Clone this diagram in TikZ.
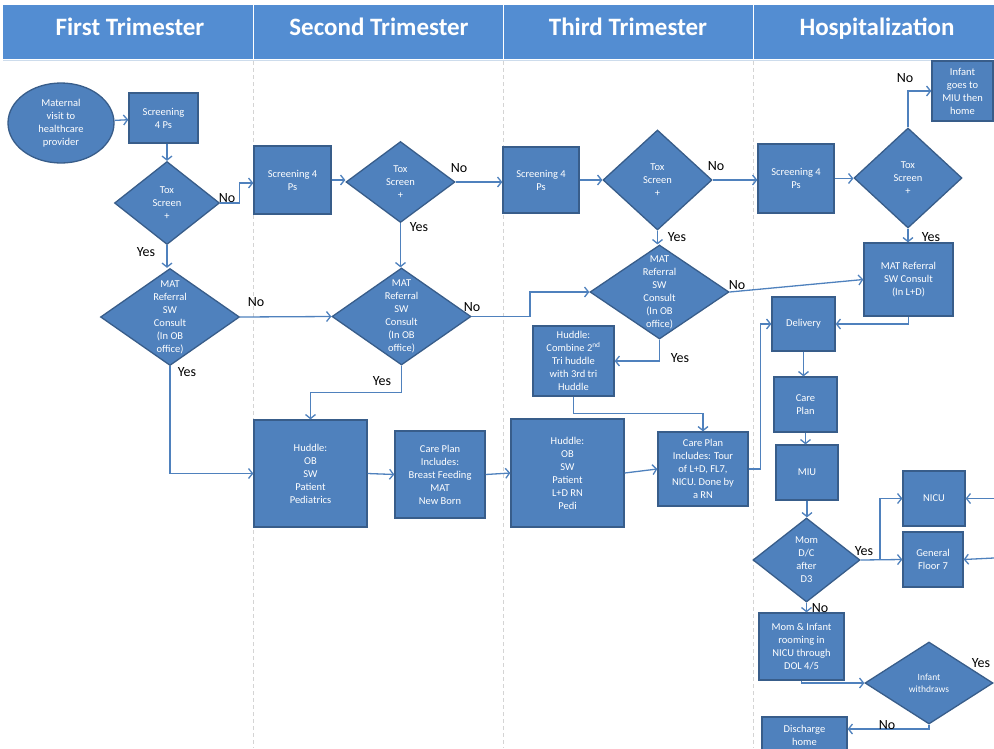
\documentclass[tikz,border=0pt]{standalone}
\usepackage{fontspec}
\setmainfont{Carlito}
\usetikzlibrary{shapes.geometric,arrows.meta,calc}
\definecolor{hdrblue}{RGB}{83,141,210}
\definecolor{boxblue}{RGB}{79,129,189}
\definecolor{boxedge}{RGB}{56,93,138}
\definecolor{lineblue}{RGB}{79,129,189}
\definecolor{sepgray}{RGB}{212,212,212}
\definecolor{rulegray}{RGB}{205,220,236}

\begin{document}
\begin{tikzpicture}[x=1pt,y=-1pt,
  sz/.style 2 args={minimum width=#1pt, minimum height=#2pt},
  stepbox/.style={rectangle, fill=boxblue, draw=boxedge, line width=1.3pt,
    text=white, align=center, font=\fontsize{10.5}{13}\selectfont, inner sep=1pt},
  decision/.style={diamond, fill=boxblue, draw=boxedge, line width=1.3pt, inner sep=0pt},
  dtext/.style={text=white, align=center, font=\fontsize{10.5}{13}\selectfont, inner sep=0pt},
  flow/.style={draw=lineblue, line width=1.3pt, -{Straight Barb[length=4pt,width=10pt]}},
  ans/.style={font=\fontsize{14}{16}\selectfont, text=black, inner sep=0pt},
  hdr/.style={font=\fontsize{25}{28}\selectfont\bfseries, text=white, anchor=base, inner sep=0pt},
]
\useasboundingbox (0,0) rectangle (994,748);

% ---------- swimlane header ----------
\fill[hdrblue] (3,5) rectangle (994,59);
\draw[rulegray, line width=1pt] (3,60) -- (994,60);
\foreach \xx in {253,503,753} {
  \draw[white, line width=1pt] (\xx,5) -- (\xx,59);
  \draw[sepgray, line width=0.9pt, dash pattern=on 4pt off 3pt] (\xx,61) -- (\xx,748);
}
\node[hdr] (h-first)  at (130,35) {First Trimester};
\node[hdr] (h-second) at (379,35) {Second Trimester};
\node[hdr] (h-third)  at (628,35) {Third Trimester};
\node[hdr] (h-hosp)   at (877,35) {Hospitalization};

% ---------- first trimester ----------
\node[ellipse, fill=boxblue, draw=boxedge, line width=1.3pt, text=white, align=center,
  font=\fontsize{10.5}{13}\selectfont, inner sep=0pt, sz={106}{80}] (mat) at (61,123)
  {Maternal\\visit to\\healthcare\\provider};
\node[stepbox, sz={69}{50}] (s1) at (163.5,118) {Screening\\4 Ps};
\node[decision, sz={105}{83}] (t1) at (167,203) {};
\node[dtext] (t1t) at (t1) {Tox\\Screen\\+};
\node[decision, sz={139}{97}] (m1) at (170,317) {};
\node[dtext] (m1t) at (m1) {MAT\\Referral\\SW\\Consult\\(In OB\\office)};

% ---------- second trimester ----------
\node[stepbox, sz={77}{68}] (s2) at (292.5,180) {Screening 4\\Ps};
\node[decision, sz={109}{81}] (t2) at (400.5,182) {};
\node[dtext] (t2t) at (t2) {Tox\\Screen\\+};
\node[decision, sz={139}{97}] (m2) at (401.5,316.5) {};
\node[dtext] (m2t) at (m2) {MAT\\Referral\\SW\\Consult\\(In OB\\office)};
\node[stepbox, sz={113}{107}] (h1) at (310.5,473.5) {Huddle:\\OB\\SW\\Patient\\Pediatrics};
\node[stepbox, sz={90}{87}] (cp1) at (440,474.5) {Care Plan\\Includes:\\Breast Feeding\\MAT\\New Born};

% ---------- third trimester ----------
\node[stepbox, sz={76}{66}] (s3) at (541,180) {Screening 4\\Ps};
\node[decision, sz={109}{100}] (t3) at (657.5,180) {};
\node[dtext] (t3t) at (t3) {Tox\\Screen\\+};
\node[decision, sz={139}{94}] (m3) at (659.5,292) {};
\node[dtext] (m3t) at (m3) {MAT\\Referral\\SW\\Consult\\(In OB\\office)};
\node[stepbox, sz={81}{70}] (hc) at (573.5,361) {Huddle:\\Combine 2\textsuperscript{nd}\\Tri huddle\\with 3rd tri\\Huddle};
\node[stepbox, sz={113}{108}] (h2) at (567.5,473) {Huddle:\\OB\\SW\\Patient\\L+D RN\\Pedi};
\node[stepbox, sz={90}{74}] (cp2) at (703,469) {Care Plan\\Includes: Tour\\of L+D, FL7,\\NICU. Done by\\a RN};

% ---------- hospitalization ----------
\node[stepbox, sz={76}{69}] (s4) at (796,178.5) {Screening 4\\Ps};
\node[decision, sz={108}{100}] (t4) at (908,178) {};
\node[dtext] (t4t) at (t4) {Tox\\Screen\\+};
\node[stepbox, sz={61}{60}] (inf) at (962.5,91) {Infant\\goes to\\MIU then\\home};
\node[stepbox, sz={89}{73}] (mH) at (908.5,279.5) {MAT Referral\\SW Consult\\(In L+D)};
\node[stepbox, sz={63}{54}] (del) at (803.5,324) {Delivery};
\node[stepbox, sz={63}{55}] (cp3) at (805.5,404.5) {Care\\Plan};
\node[stepbox, sz={62}{55}] (miu) at (807,472.5) {MIU};
\node[decision, sz={107}{84}] (mom) at (806.5,560) {};
\node[dtext] (momt) at (mom) {Mom\\D/C\\after\\D3};
\node[stepbox, sz={62}{55}] (nicu) at (934,498.5) {NICU};
\node[stepbox, sz={60}{55}] (gf) at (933,559.5) {General\\Floor 7};
\node[stepbox, sz={85}{67}] (mi) at (801.5,646.5) {Mom \& Infant\\rooming in\\NICU through\\DOL 4/5};
\node[decision, sz={128}{82}] (iw) at (929,683) {};
\node[dtext, font=\fontsize{9.5}{12}\selectfont] (iwt) at (iw) {Infant\\withdraws};
\node[stepbox, sz={85}{36}] (dis) at (804.5,735) {Discharge\\home};

% ---------- connectors ----------
\draw[flow] (mat) -- (s1);
\draw[flow] (s1.south -| t1.north) -- (t1.north);
\draw[flow] (t1.east) -- ++(19,0) |- ([yshift=-3pt]s2.west);
\draw[flow] (t1.south) -- (t1.south |- m1.north);
\draw[flow] (m1.east) -- (m2.west);
\draw[flow] (m1.south) |- (h1.west);

\draw[flow] (s2.east) -- (s2.east -| t2.west);
\draw[flow] (t2.east) -- (t2.east -| s3.west);
\draw[flow] (t2.south) -- (t2.south |- m2.north);
\draw[flow] (m2.east) -- (530,316.5) |- (m3.west);
\draw[flow] (m2.south) |- ($(h1.north)+(0,-27)$) -- (h1.north);
\draw[flow] (h1.east) -- (cp1.west);
\draw[flow] (cp1.east) -- (h2.west);

\draw[flow] (s3.east) -- (s3.east -| t3.west);
\draw[flow] (t3.east) -- (t3.east -| s4.west);
\draw[flow] (t3.south) -- (t3.south |- m3.north);
\draw[flow] (m3.east) -- (mH.west);
\draw[flow] (m3.south) |- (hc.east);
\draw[flow] (hc.south) -- ++(0,17) -| (cp2.north);
\draw[flow] (h2.east) -- (cp2.west);
\draw[flow] (cp2.east) -- ++(12,0) |- (del.west);

\draw[flow] (s4.east) -- (s4.east -| t4.west);
\draw[flow] (t4.north) |- (inf.west);
\draw[flow] (t4.south) -- (t4.south |- mH.north);
\draw[flow] (mH.south) |- (del.east);
\draw[flow] (del.south) -- (del.south |- cp3.north);
\draw[flow] (cp3.south) -- (cp3.south |- miu.north);
\draw[flow] (miu.south) -- (miu.south |- mom.north);
\coordinate (split) at (880,560);
\draw[flow] (mom.east) -- (gf.west);
\draw[flow] (split) |- (nicu.west);
\coordinate (inN) at (994,498.5);
\coordinate (inG) at (994,558);
\draw[flow] (inN) -- (nicu.east);
\draw[flow] (inG) -- (gf.east);
\draw[flow] (mom.south) -- (mom.south |- mi.north);
\draw[flow] (mi.south) |- (iw.west);
\draw[flow] (iw.south) |- ([yshift=6pt]dis.east);

% ---------- answers ----------
\node[ans] (a1) at (227,198) {No};
\node[ans] (a2) at (146,252) {Yes};
\node[ans] (a3) at (256,302) {No};
\node[ans] (a4) at (187,372) {Yes};
\node[ans] (a5) at (459,168) {No};
\node[ans] (a6) at (419,227) {Yes};
\node[ans] (a7) at (472,307) {No};
\node[ans] (a8) at (382,381) {Yes};
\node[ans] (a9) at (716,166) {No};
\node[ans] (a10) at (677,237) {Yes};
\node[ans] (a11) at (737,285) {No};
\node[ans] (a12) at (680,358) {Yes};
\node[ans] (a13) at (905,78) {No};
\node[ans] (a14) at (931,237) {Yes};
\node[ans] (a15) at (864,551) {Yes};
\node[ans] (a16) at (820,608) {No};
\node[ans] (a17) at (981,663) {Yes};
\node[ans] (a18) at (887,725) {No};
\end{tikzpicture}
\end{document}
